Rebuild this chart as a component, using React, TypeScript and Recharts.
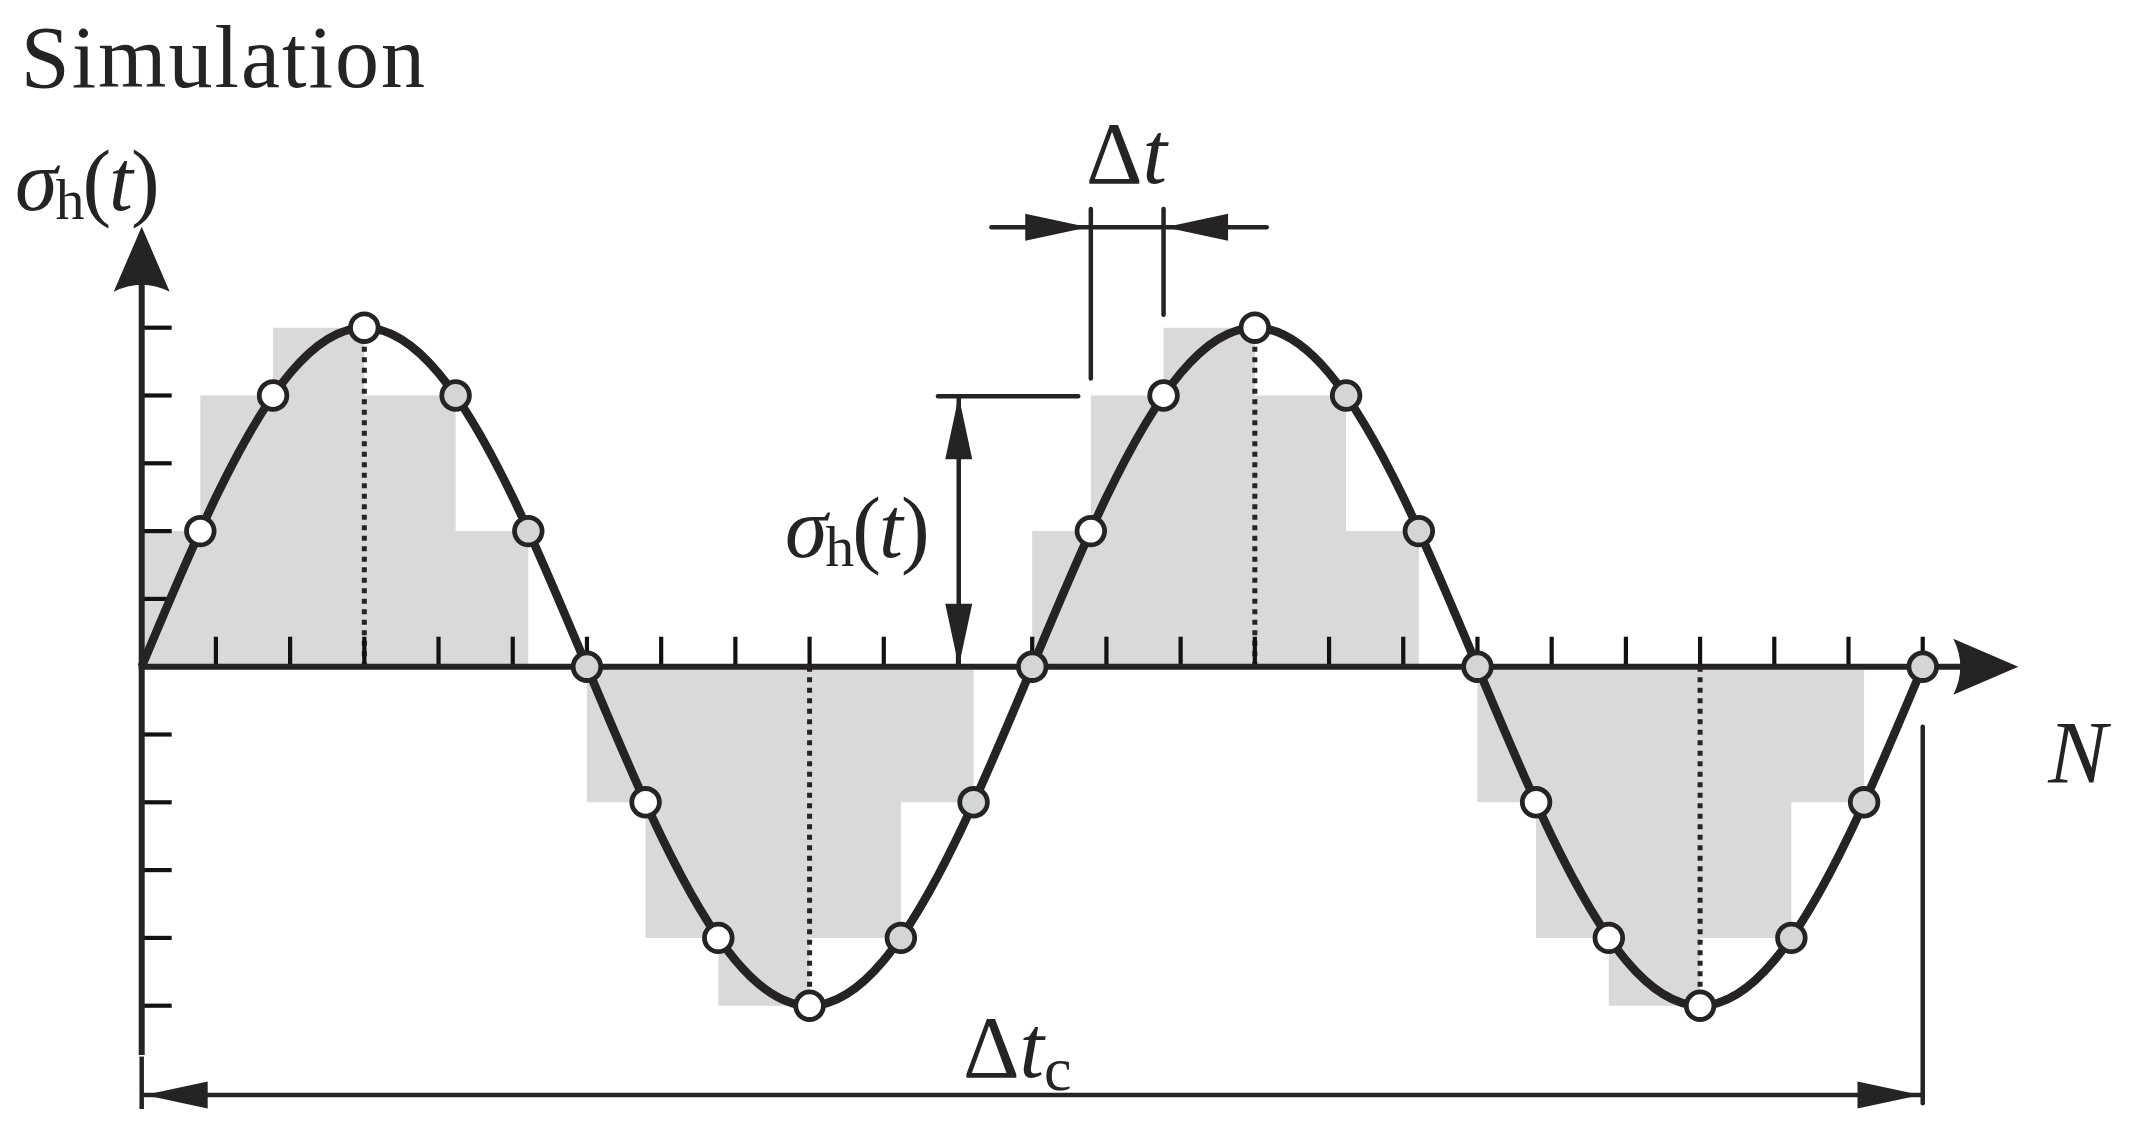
import React from 'react';
import { ComposedChart, XAxis, YAxis, Area, Line, Scatter, ReferenceLine } from 'recharts';

// ---------- data ----------
// x in tick units (one tick = 30 deg of the load cycle), y in stress units (amplitude 5)
const xTickValues = [1, 2, 3, 4, 5, 6, 7, 8, 9, 10, 11, 12, 13, 14, 15, 16, 17, 18, 19, 20, 21, 22, 23, 24];
const yTickValues = [-5, -4, -3, -2, -1, 1, 2, 3, 4, 5];

// continuous stress history read at every tick
const curveX = [0, 1, 2, 3, 4, 5, 6, 7, 8, 9, 10, 11, 12, 13, 14, 15, 16, 17, 18, 19, 20, 21, 22, 23, 24];
const curveY = [0, 2.5, 4.33, 5, 4.33, 2.5, 0, -2.5, -4.33, -5, -4.33, -2.5, 0, 2.5, 4.33, 5, 4.33, 2.5, 0, -2.5, -4.33, -5, -4.33, -2.5, 0];

// simulation sample points (circles)
const sampleX = [0.79, 1.77, 3, 4.23, 5.21, 6, 6.79, 7.77, 9, 10.23, 11.21, 12, 12.79, 13.77, 15, 16.23, 17.21, 18, 18.79, 19.77, 21, 22.23, 23.21, 24];
const sampleY = [2, 4, 5, 4, 2, 0, -2, -4, -5, -4, -2, 0, 2, 4, 5, 4, 2, 0, -2, -4, -5, -4, -2, 0];
const sampleKind = ['open', 'open', 'open', 'fill', 'fill', 'fill', 'open', 'open', 'open', 'fill', 'fill', 'fill', 'open', 'open', 'open', 'fill', 'fill', 'fill', 'open', 'open', 'open', 'fill', 'fill', 'fill'];

// peaks (dotted verticals)
const peakX = [3, 9, 15, 21];
const peakY = [5, -5, 5, -5];

// ---------- derived tables ----------
const curveData = curveX.map((x, i) => ({ x, y: curveY[i] }));
const sampleData = sampleX.map((x, i) => ({ x, y: sampleY[i], kind: sampleKind[i] }));
const stepData = [{ x: 0, y: 0 }, ...sampleX.map((x, i) => ({ x, y: sampleY[i] }))];

// annotation geometry (data units)
const X_DOMAIN: [number, number] = [-1.9094, 26.874];
const Y_DOMAIN: [number, number] = [-7.025, 9.833];
const TICK_X_LEN = 0.404;
const TICK_Y_LEN = 0.442;

const arrowData = [
  { x: 0, y: 6.49, dir: 'up', kind: 'barb' },
  { x: 25.288, y: 0, dir: 'right', kind: 'barb' },
  { x: 12.755, y: 6.48, dir: 'right', kind: 'simple' },
  { x: 13.79, y: 6.48, dir: 'left', kind: 'simple' },
  { x: 11.01, y: 3.99, dir: 'up', kind: 'simple' },
  { x: 11.01, y: 0, dir: 'down', kind: 'simple' },
  { x: 0.04, y: -6.317, dir: 'left', kind: 'simple' },
  { x: 23.97, y: -6.317, dir: 'right', kind: 'simple' },
];

const labelData = [
  { x: -1.63, y: 8.546, id: 'title' },
  { x: -1.707, y: 6.736, id: 'sigma' },
  { x: 8.668, y: 1.618, id: 'sigma' },
  { x: 12.725, y: 7.139, id: 'dt' },
  { x: 11.067, y: -6.047, id: 'dtc' },
  { x: 25.69, y: -1.696, id: 'N' },
];

const INK = '#262422';
const FONT = "'Liberation Serif', 'DejaVu Serif', serif";

const ArrowHead = (p: any) => {
  const { cx, cy, payload } = p;
  const angle = ({ right: 0, left: 180, up: -90, down: 90 } as any)[payload.dir];
  const d = payload.kind === 'barb'
    ? 'M0,0 L-65,-28 Q-51,0 -65,28 Z'
    : 'M0,0 L-63,-13.5 L-63,13.5 Z';
  return <path d={d} transform={`translate(${cx},${cy}) rotate(${angle})`} fill={INK} />;
};

const SampleDot = (p: any) => (
  <circle
    cx={p.cx}
    cy={p.cy}
    r={13.8}
    fill={p.payload.kind === 'open' ? '#ffffff' : '#d4d6d5'}
    stroke={INK}
    strokeWidth={4.8}
  />
);

const LabelText = (p: any) => {
  const { cx, cy, payload } = p;
  const common = { x: cx, y: cy, fill: INK, fontFamily: FONT, fontSize: 88 } as any;
  if (payload.id === 'title') {
    return <text {...common} letterSpacing={2}>Simulation</text>;
  }
  if (payload.id === 'sigma') {
    return (
      <text {...common} fontSize={86} letterSpacing={-2}>
        <tspan fontStyle="italic">σ</tspan>
        <tspan fontSize={58} dy={9}>h</tspan>
        <tspan dy={-9}>(</tspan>
        <tspan fontStyle="italic">t</tspan>
        <tspan>)</tspan>
      </text>
    );
  }
  if (payload.id === 'dt') {
    return (
      <text {...common}>
        <tspan>Δ</tspan>
        <tspan fontStyle="italic">t</tspan>
      </text>
    );
  }
  if (payload.id === 'dtc') {
    return (
      <text {...common}>
        <tspan>Δ</tspan>
        <tspan fontStyle="italic">t</tspan>
        <tspan fontSize={62} dy={13}>c</tspan>
      </text>
    );
  }
  return <text {...common} fontStyle="italic">N</text>;
};

const seg = (x1: number, y1: number, x2: number, y2: number) => [{ x: x1, y: y1 }, { x: x2, y: y2 }] as any;

export default function App() {
  return (
    <div style={{ position: 'absolute', left: 0, top: 0, width: 2136, height: 1143, background: '#ffffff' }}>
      <ComposedChart width={2136} height={1143} margin={{ top: 0, right: 0, bottom: 0, left: 0 }}>
        <XAxis dataKey="x" type="number" domain={X_DOMAIN} allowDataOverflow hide />
        <YAxis type="number" domain={Y_DOMAIN} allowDataOverflow hide />

        <Area
          data={stepData}
          dataKey="y"
          type="stepBefore"
          baseValue={0}
          fill="#d9d9d9"
          fillOpacity={1}
          stroke="none"
          isAnimationActive={false}
        />

        {peakX.map((x, i) => (
          <ReferenceLine key={`pk${i}`} segment={seg(x, 0, x, peakY[i])} stroke={INK} strokeWidth={5} strokeDasharray="5 5.5" ifOverflow="visible" />
        ))}

        {yTickValues.map((v) => (
          <ReferenceLine key={`yt${v}`} segment={seg(0, v, TICK_X_LEN, v)} stroke="#111111" strokeWidth={4.2} ifOverflow="visible" />
        ))}
        {xTickValues.map((v) => (
          <ReferenceLine key={`xt${v}`} segment={seg(v, 0, v, TICK_Y_LEN)} stroke="#111111" strokeWidth={4.2} ifOverflow="visible" />
        ))}

        {/* axes */}
        <ReferenceLine segment={seg(0, -5.727, 0, 5.8)} stroke={INK} strokeWidth={6} ifOverflow="visible" />
        <ReferenceLine segment={seg(0, -5.75, 0, -6.524)} stroke={INK} strokeWidth={4.5} ifOverflow="visible" />
        <ReferenceLine segment={seg(-0.04, 0, 24.6, 0)} stroke={INK} strokeWidth={6} ifOverflow="visible" />

        {/* Δt dimension */}
        <ReferenceLine segment={seg(11.45, 6.48, 15.16, 6.48)} stroke={INK} strokeWidth={4.5} strokeLinecap="round" ifOverflow="visible" />
        <ReferenceLine segment={seg(12.79, 6.75, 12.79, 4.25)} stroke={INK} strokeWidth={4.5} strokeLinecap="round" ifOverflow="visible" />
        <ReferenceLine segment={seg(13.77, 6.75, 13.77, 5.19)} stroke={INK} strokeWidth={4.5} strokeLinecap="round" ifOverflow="visible" />

        {/* σh(t) dimension */}
        <ReferenceLine segment={seg(10.73, 3.99, 12.62, 3.99)} stroke={INK} strokeWidth={4.5} strokeLinecap="round" ifOverflow="visible" />
        <ReferenceLine segment={seg(11.01, 0, 11.01, 3.99)} stroke={INK} strokeWidth={4.5} ifOverflow="visible" />

        {/* Δtc dimension */}
        <ReferenceLine segment={seg(0, -6.317, 24, -6.317)} stroke={INK} strokeWidth={4.5} ifOverflow="visible" />
        <ReferenceLine segment={seg(24, -0.885, 24, -6.44)} stroke={INK} strokeWidth={4.5} strokeLinecap="round" ifOverflow="visible" />

        <Line
          data={curveData}
          dataKey="y"
          type="natural"
          stroke={INK}
          strokeWidth={8.5}
          dot={false}
          activeDot={false}
          isAnimationActive={false}
        />

        <Scatter data={sampleData} dataKey="y" shape={SampleDot} isAnimationActive={false} />
        <Scatter data={arrowData} dataKey="y" shape={ArrowHead} isAnimationActive={false} />
        <Scatter data={labelData} dataKey="y" shape={LabelText} isAnimationActive={false} />
      </ComposedChart>
    </div>
  );
}
